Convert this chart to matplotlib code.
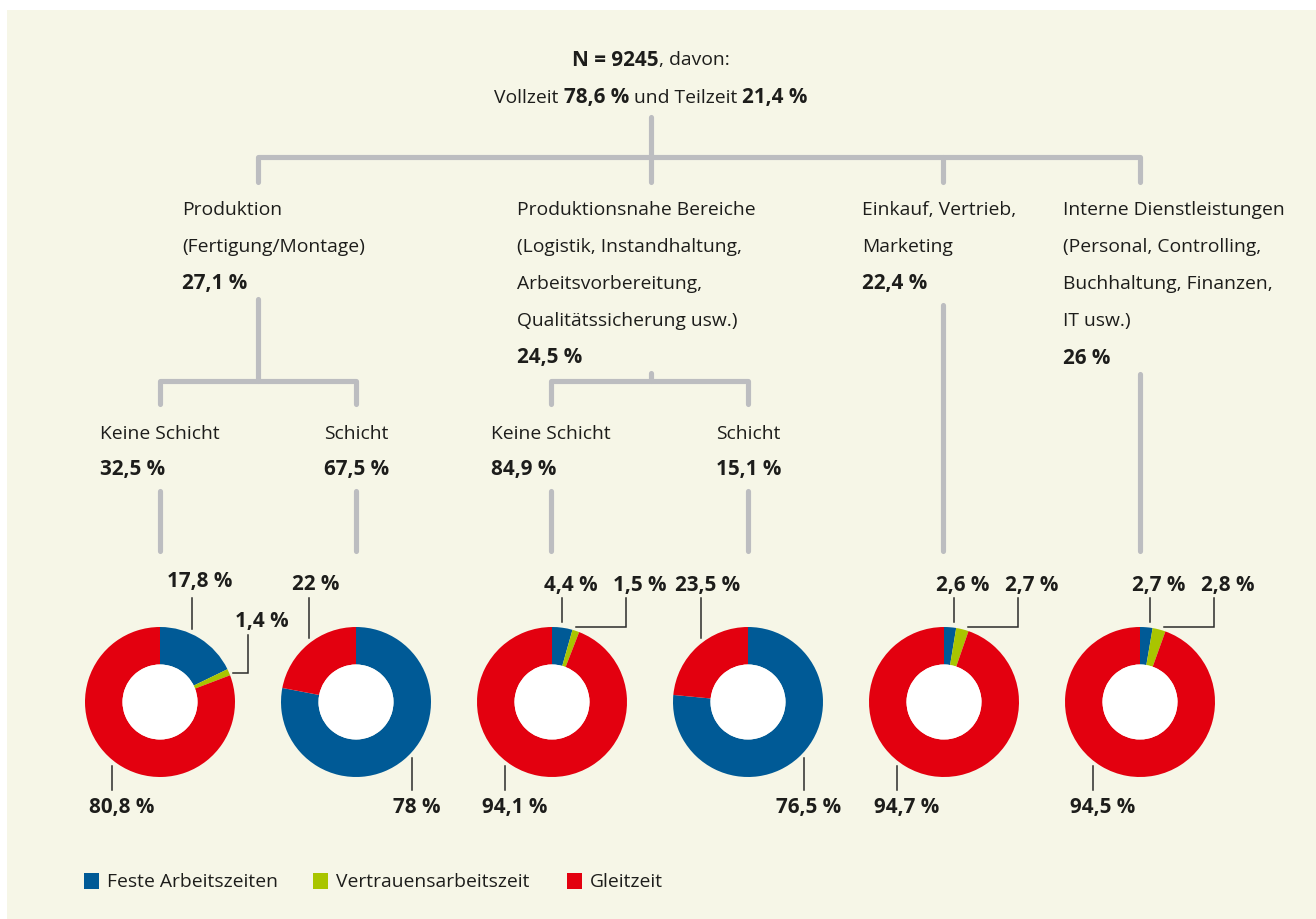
import matplotlib
matplotlib.use("Agg")
import matplotlib.pyplot as plt
from matplotlib.patches import Rectangle, Circle

# ---------------- data ----------------
N_TOTAL = 9245
VOLLZEIT = 78.6
TEILZEIT = 21.4
AREAS = [
    ["Produktion", "(Fertigung/Montage)"],
    ["Produktionsnahe Bereiche", "(Logistik, Instandhaltung,", "Arbeitsvorbereitung,", "Qualitätssicherung usw.)"],
    ["Einkauf, Vertrieb,", "Marketing"],
    ["Interne Dienstleistungen", "(Personal, Controlling,", "Buchhaltung, Finanzen,", "IT usw.)"],
]
AREA_PCT = [27.1, 24.5, 22.4, 26]
SHIFT_LABELS = ["Keine Schicht", "Schicht", "Keine Schicht", "Schicht"]
SHIFT_PCT = [32.5, 67.5, 84.9, 15.1]
SERIES = ["Feste Arbeitszeiten", "Vertrauensarbeitszeit", "Gleitzeit"]
FESTE = [17.8, 78, 4.4, 76.5, 2.6, 2.7]
VERTRAUEN = [1.4, 0, 1.5, 0, 2.7, 2.8]
GLEIT = [80.8, 22, 94.1, 23.5, 94.7, 94.5]

# ---------------- style / layout ----------------
W, H = 1316, 920
BG = "#f6f6e7"
GRAY = "#bcbdc0"
TXT = "#1d1d1b"
COLORS = ["#005a96", "#a9c500", "#e3000f"]
FONT = "Open Sans"
FS = 13.9
FSB = 14.9

plt.rcParams["font.family"] = [FONT, "DejaVu Sans"]

fig = plt.figure(figsize=(W / 100, H / 100), dpi=100, facecolor="white")
ax = fig.add_axes([0, 0, 1, 1])
ax.set_axis_off()


def Y(y):
    return H - y


def fmt(v):
    return f"{v:g}".replace(".", ",") + " %"


def tline(xs, ys):
    ax.plot(xs, [Y(y) for y in ys], color=GRAY, lw=3.7,
            solid_capstyle="round", solid_joinstyle="round", zorder=2)


def txt(x, y, s, bold=False, ha="left"):
    return ax.text(x, Y(y), s, ha=ha, va="center", fontsize=FSB if bold else FS, color=TXT,
                   fontweight="bold" if bold else "normal", zorder=5)


ax.add_patch(Rectangle((7, 0), W - 7, H - 11, facecolor=BG, edgecolor="none", zorder=0))

# ---------- donuts ----------
CX = [160, 356, 552, 748, 944, 1140]
CY = 703
R_OUT, R_IN = 75, 37.5
for i, cx in enumerate(CX):
    vals = [FESTE[i], VERTRAUEN[i], GLEIT[i]]
    ax.pie(vals, colors=COLORS, startangle=90, counterclock=False, radius=R_OUT,
           center=(cx, Y(CY)), wedgeprops=dict(width=R_OUT - R_IN, linewidth=0),
           normalize=True)
    ax.add_patch(Circle((cx, Y(CY)), R_IN, facecolor="white", edgecolor="none", zorder=3))

# label layouts (offsets from donut centre): (series index, text offset, leader points)
L_WIDE = [
    (0, (40, -121), [(32, -104), (32, -73)]),
    (1, (102, -81), [(73, -29), (88, -29), (88, -67)]),
    (2, (-38, 105), [(-48, 64), (-48, 88)]),
]
L_SHIFT = [
    (2, (-40, -118), [(-47, -104), (-47, -64)]),
    (0, (61, 105), [(56, 56), (56, 88)]),
]
L_SMALL = [
    (0, (19, -118), [(10, -104), (10, -80)]),
    (1, (88, -118), [(24, -75), (74, -75), (74, -104)]),
    (2, (-37, 105), [(-47, 64), (-47, 88)]),
]
DONUT_LAYOUT = [L_WIDE, L_SHIFT, L_SMALL, L_SHIFT, L_SMALL, L_SMALL]
for i, cx in enumerate(CX):
    vals = [FESTE[i], VERTRAUEN[i], GLEIT[i]]
    for si, (tx, ty), pts in DONUT_LAYOUT[i]:
        txt(cx + tx, CY + ty, fmt(vals[si]), bold=True, ha="center")
        ax.plot([cx + px for px, py in pts], [Y(CY + py) for px, py in pts],
                color="#2b2b2b", lw=1.1, solid_joinstyle="miter", zorder=4)

# ---------- tree lines ----------
tline([651, 651], [118, 183])
tline([258, 258, 1140, 1140], [183, 158, 158, 183])
tline([943, 943], [158, 183])
# level 1 -> level 2
tline([258, 258], [300, 382])
tline([160, 160, 356, 356], [405, 382, 382, 405])
tline([651, 651], [374, 382])
tline([551, 551, 748, 748], [405, 382, 382, 405])
tline([943, 943], [306, 552])
tline([1140, 1140], [375, 552])
# level 2 -> donuts
for x in [160, 356, 551, 748]:
    tline([x, x], [492, 552])

# ---------- texts ----------
fig.canvas.draw()
renderer = fig.canvas.get_renderer()


def width_of(s, bold):
    t = txt(0, 0, s, bold=bold)
    w = t.get_window_extent(renderer).width
    t.remove()
    return w


space_w = width_of("a a", False) - width_of("aa", False)


def rich(parts, xc, y):
    items = []
    for s, b in parts:
        core = s.strip()
        w = width_of(core, b) if core else 0
        lead = len(s) - len(s.lstrip())
        trail = len(s) - len(s.rstrip())
        items.append((core, b, lead, trail, w))
    total = sum(w + (l + t) * space_w for _, _, l, t, w in items)
    x = xc - total / 2
    for core, b, l, t, w in items:
        x += l * space_w
        txt(x, y, core, bold=b)
        x += w + t * space_w


rich([(f"N = {N_TOTAL}", True), (", davon:", False)], 651, 60)
rich([("Vollzeit ", False), (fmt(VOLLZEIT), True), (" und Teilzeit ", False), (fmt(TEILZEIT), True)], 651, 98)

AREA_X = [182, 517, 862, 1063]
for x, lines, p in zip(AREA_X, AREAS, AREA_PCT):
    y = 210
    for ln in lines:
        txt(x, y, ln)
        y += 37
    txt(x, y, fmt(p), bold=True)

SHIFT_X = [100, 324, 491, 716]
for x, lab, p in zip(SHIFT_X, SHIFT_LABELS, SHIFT_PCT):
    txt(x, 434, lab)
    txt(x, 470, fmt(p), bold=True)

# ---------- legend ----------
LEG_X = [84, 313, 567]
for x, name, c in zip(LEG_X, SERIES, COLORS):
    ax.add_patch(Rectangle((x, Y(890)), 15, 16, facecolor=c, edgecolor="none", zorder=3))
    txt(x + 23, 882, name)

ax.set_xlim(0, W)
ax.set_ylim(0, H)
ax.set_aspect("auto")
fig.savefig("out.png", dpi=100, facecolor="white")
